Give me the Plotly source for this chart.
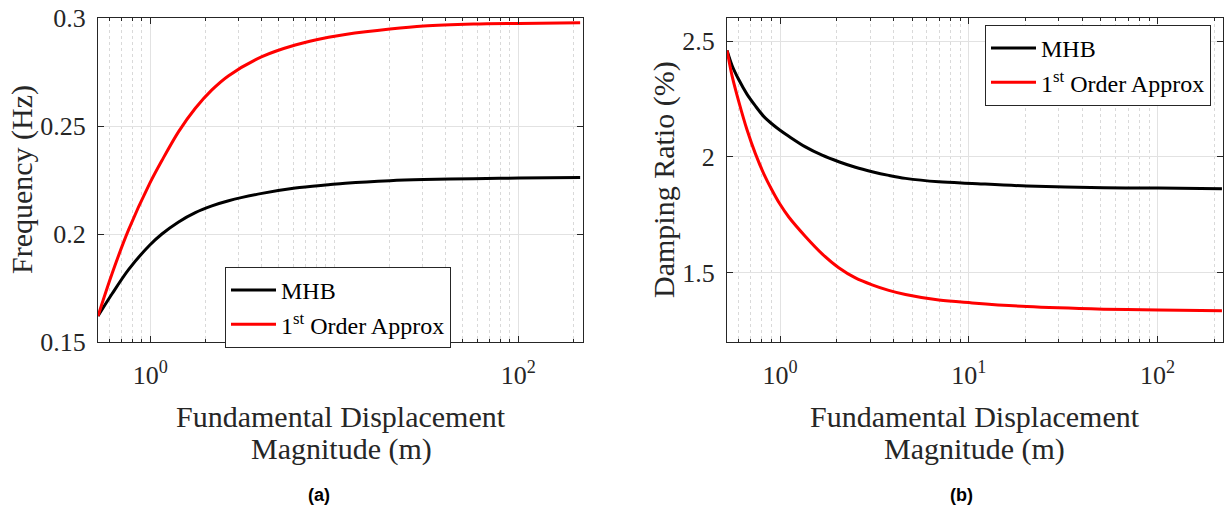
import plotly.graph_objects as go

# ---------------- data ----------------
# (a) Frequency vs fundamental displacement magnitude
x_a = [0.52, 0.619, 0.762, 0.992, 1.157, 1.426, 1.758, 2.163, 2.667, 4.046, 6.138,
       9.31, 11.48, 20.1, 30.6, 57.1, 101, 217]
freq_mhb = [0.162, 0.1722, 0.1835, 0.1948, 0.2000, 0.2056, 0.2099, 0.2130, 0.2154,
            0.2188, 0.2213, 0.2228, 0.2235, 0.2247, 0.2252, 0.2256, 0.2259, 0.2261]
freq_1st = [0.162, 0.1815, 0.2019, 0.2233, 0.2340, 0.2474, 0.2582, 0.2667, 0.2733,
            0.2821, 0.2875, 0.2911, 0.2924, 0.2949, 0.2963, 0.2972, 0.2975, 0.2978]

# (b) Damping ratio vs fundamental displacement magnitude
x_b = [0.524, 0.557, 0.604, 0.669, 0.740, 0.819, 0.907, 1.0, 1.112, 1.362, 1.670,
       2.046, 2.507, 3.073, 3.766, 4.615, 6.934, 10.41, 20.3, 51.6, 101, 219]
damp_mhb = [2.460, 2.395, 2.334, 2.270, 2.220, 2.175, 2.142, 2.115, 2.089, 2.043,
            2.007, 1.979, 1.955, 1.936, 1.920, 1.907, 1.892, 1.885, 1.874, 1.866,
            1.865, 1.862]
damp_1st = [2.460, 2.350, 2.240, 2.116, 2.014, 1.928, 1.856, 1.795, 1.740, 1.656,
            1.581, 1.521, 1.477, 1.447, 1.423, 1.405, 1.381, 1.369, 1.353, 1.342,
            1.338, 1.335]

series_names = ["MHB", "1<sup>st</sup> Order Approx"]
series_colors = ["#000000", "#ff0000"]

a_xtickvals = [1, 100]
a_xticktext = ["10<sup>0</sup>", "10<sup>2</sup>"]
b_xtickvals = [1, 10, 100]
b_xticktext = ["10<sup>0</sup>", "10<sup>1</sup>", "10<sup>2</sup>"]
a_minor = [0.6, 0.7, 0.8, 0.9, 2, 3, 4, 5, 6, 7, 8, 9, 10, 20, 30, 40, 50, 60, 70, 80, 90, 200]
b_minor = [0.6, 0.7, 0.8, 0.9, 2, 3, 4, 5, 6, 7, 8, 9, 20, 30, 40, 50, 60, 70, 80, 90, 200]
a_ytickvals = [0.15, 0.2, 0.25, 0.3]
a_yticktext = ["0.15", "0.2", "0.25", "0.3"]
b_ytickvals = [1.5, 2, 2.5]
b_yticktext = ["1.5", "2", "2.5"]

# ---------------- figure ----------------
W, H = 1224, 509
SERIF = "Liberation Serif"
AX = "#262626"

fig = go.Figure()
for ys, name, col in zip([freq_mhb, freq_1st], series_names, series_colors):
    fig.add_trace(go.Scatter(x=x_a, y=ys, name=name, mode="lines",
                             line=dict(color=col, width=3, shape="spline", smoothing=0.9),
                             xaxis="x", yaxis="y", legend="legend"))
for ys, name, col in zip([damp_mhb, damp_1st], series_names, series_colors):
    fig.add_trace(go.Scatter(x=x_b, y=ys, name=name, mode="lines",
                             line=dict(color=col, width=3, shape="spline", smoothing=0.9),
                             xaxis="x2", yaxis="y2", legend="legend2"))

ydom = [(H - 342) / H, (H - 18) / H]


def xaxis(domain, rng, tv, tt, minor, anchor):
    return dict(type="log", domain=domain, range=rng, tickmode="array",
                tickvals=tv, ticktext=tt, ticks="inside", ticklen=6, tickcolor=AX,
                showline=True, linecolor=AX, linewidth=1, mirror="ticks",
                showgrid=True, gridcolor="#e2e2e2", gridwidth=1, zeroline=False,
                minor=dict(tickmode="array", tickvals=minor, ticks="inside", ticklen=3,
                           tickcolor=AX, showgrid=True, gridcolor="#d9d9d9",
                           griddash="3px,3px", gridwidth=1),
                tickfont=dict(family=SERIF, size=26, color=AX),
                ticklabelstandoff=10, anchor=anchor, automargin=False)


def yaxis(domain, rng, tv, tt, anchor):
    return dict(domain=domain, range=rng, tickmode="array", tickvals=tv, ticktext=tt,
                ticks="inside", ticklen=6, tickcolor=AX,
                showline=True, linecolor=AX, linewidth=1, mirror="ticks",
                showgrid=True, gridcolor="#e2e2e2", gridwidth=1, zeroline=False,
                tickfont=dict(family=SERIF, size=26, color=AX),
                ticklabelstandoff=6, anchor=anchor, automargin=False)


legend_common = dict(font=dict(family=SERIF, size=24, color="#000000"),
                     bgcolor="#ffffff", bordercolor=AX, borderwidth=1,
                     xanchor="left", yanchor="top", tracegroupgap=0, itemwidth=45)

annotations = []


def ann(text, xpx, ypx, size, family=SERIF, angle=0, color=AX):
    annotations.append(dict(text=text, x=xpx / W, y=(H - ypx) / H, xref="paper", yref="paper",
                            showarrow=False, xanchor="center", yanchor="middle",
                            textangle=angle, font=dict(family=family, size=size, color=color)))


# axis titles
ann("Fundamental Displacement", 341, 416, 30)
ann("Magnitude (m)", 341, 449, 30)
ann("Fundamental Displacement", 975, 416, 30)
ann("Magnitude (m)", 975, 449, 30)
ann("Frequency (Hz)", 22, 180, 30, angle=-90)
ann("Damping Ratio (%)", 664, 180, 30, angle=-90)
# captions
ann("<b>(a)</b>", 319, 495, 18, family="Liberation Sans", color="#000000")
ann("<b>(b)</b>", 961, 495, 18, family="Liberation Sans", color="#000000")

fig.update_layout(
    width=W, height=H,
    margin=dict(l=0, r=0, t=0, b=0),
    paper_bgcolor="#ffffff", plot_bgcolor="#ffffff",
    xaxis=xaxis([98 / W, 583 / W], [-0.284, 2.352], a_xtickvals, a_xticktext, a_minor, "y"),
    yaxis=yaxis(ydom, [0.15, 0.3], a_ytickvals, a_yticktext, "x"),
    xaxis2=xaxis([727 / W, 1223 / W], [-0.281, 2.346], b_xtickvals, b_xticktext, b_minor, "y2"),
    yaxis2=yaxis(ydom, [1.2, 2.6], b_ytickvals, b_yticktext, "x2"),
    legend=dict(x=225 / W, y=(H - 267) / H, **legend_common),
    legend2=dict(x=985 / W, y=(H - 25) / H, **legend_common),
    annotations=annotations,
    showlegend=True,
)

fig.write_html("out.html")
